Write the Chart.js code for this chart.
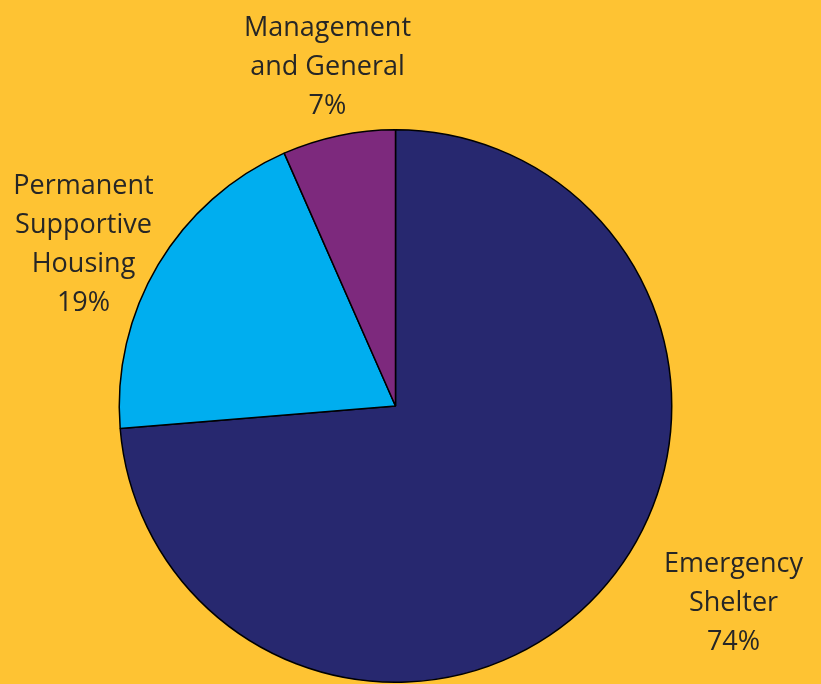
<!DOCTYPE html>
<html>
<head>
<meta charset="utf-8">
<script src="https://cdn.jsdelivr.net/npm/chart.js@4/dist/chart.umd.min.js"></script>
<style>
  html, body { margin: 0; padding: 0; background: #fec333; }
  #wrap { width: 821px; height: 684px; }
</style>
</head>
<body>
<div id="wrap"><canvas id="pie"></canvas></div>
<script>
// Chart data (slice sizes, labels as printed)
const categories = ["Emergency Shelter", "Permanent Supportive Housing", "Management and General"];
const shares = [73.7, 19.7, 6.6];
const labelLines = [
  ["Emergency", "Shelter", "74%"],
  ["Permanent", "Supportive", "Housing", "19%"],
  ["Management", "and General", "7%"]
];
const sliceColors = ["#27286f", "#00aeef", "#7d297d"];

// where each label block sits, relative to the pie centre (first baseline)
const labelOffsets = [
  { dx: 338, dy: 166 },
  { dx: -312, dy: -212 },
  { dx: -68, dy: -370 }
];

const outsideLabels = {
  id: "outsideLabels",
  afterDraw(chart) {
    const ctx = chart.ctx;
    const arc = chart.getDatasetMeta(0).data[0];
    ctx.save();
    ctx.fillStyle = "#262626";
    ctx.font = "27px 'Open Sans'";
    ctx.textAlign = "center";
    ctx.textBaseline = "alphabetic";
    labelLines.forEach((lines, i) => {
      const off = labelOffsets[i];
      lines.forEach((line, j) => {
        ctx.fillText(line, arc.x + off.dx, arc.y + off.dy + j * 39);
      });
    });
    ctx.restore();
  }
};

new Chart(document.getElementById("pie"), {
  type: "pie",
  data: {
    labels: categories,
    datasets: [{
      data: shares,
      backgroundColor: sliceColors,
      borderColor: "#000000",
      borderWidth: 1.5
    }]
  },
  options: {
    responsive: true,
    maintainAspectRatio: false,
    animation: false,
    layout: { padding: { top: 129, bottom: 1, left: 0, right: 30 } },
    plugins: {
      legend: { display: false },
      tooltip: { enabled: false }
    }
  },
  plugins: [outsideLabels]
});
</script>
</body>
</html>
